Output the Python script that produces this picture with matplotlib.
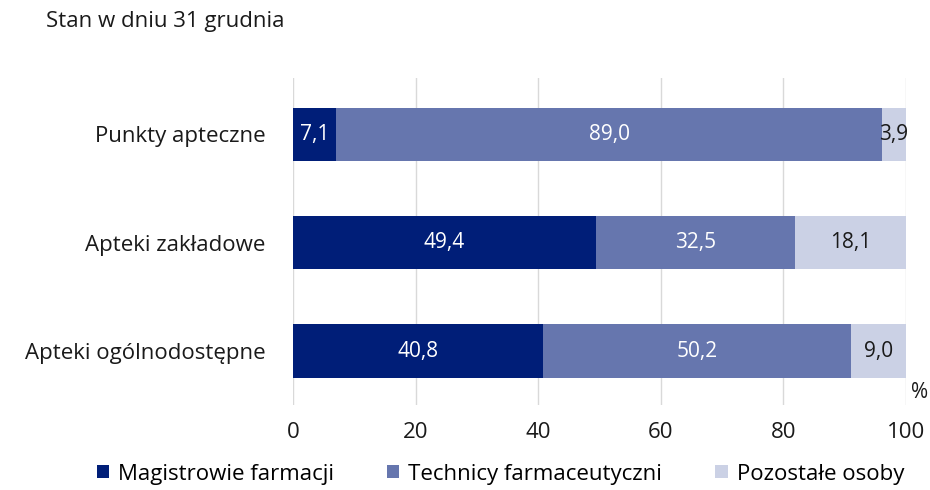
import matplotlib.pyplot as plt
from matplotlib.patches import Patch

plt.rcParams['font.family'] = ['Open Sans', 'DejaVu Sans']

categories = ['Apteki ogólnodostępne', 'Apteki zakładowe', 'Punkty apteczne']
magistrowie = [40.8, 49.4, 7.1]
technicy = [50.2, 32.5, 89.0]
pozostale = [9.0, 18.1, 3.9]
series_names = ['Magistrowie farmacji', 'Technicy farmaceutyczni', 'Pozostałe osoby']
xticks = [0, 20, 40, 60, 80, 100]

COL_DARK = '#001e78'
COL_MID = '#6676ae'
COL_LIGHT = '#cbd1e5'
colors = [COL_DARK, COL_MID, COL_LIGHT]
text_cols = ['white', 'white', '#1a1a1a']

fig = plt.figure(figsize=(9.3, 4.9), dpi=100)
ax = fig.add_axes([0.315, 0.173, 0.659, 0.668])

y = range(len(categories))
left = [0.0] * len(categories)
for vals, col, tc in zip([magistrowie, technicy, pozostale], colors, text_cols):
    bars = ax.barh(y, vals, left=left, height=0.49, color=col, zorder=3)
    for b, v in zip(bars, vals):
        ax.text(b.get_x() + b.get_width() / 2, b.get_y() + b.get_height() / 2,
                f'{v:.1f}'.replace('.', ','), ha='center', va='center',
                color=tc, fontsize=15, zorder=4)
    left = [l + v for l, v in zip(left, vals)]

ax.set_xlim(0, 100)
ax.set_ylim(-0.5, 2.52)
ax.set_xticks(xticks)
ax.set_xticklabels([str(t) for t in xticks], fontsize=16)
ax.set_yticks(list(y))
ax.set_yticklabels(categories, fontsize=16)
ax.tick_params(axis='both', length=0, colors='#1a1a1a')
ax.tick_params(axis='x', pad=12)
ax.tick_params(axis='y', pad=20)
ax.xaxis.grid(True, color='#d9d9d9', linewidth=1, zorder=0)
for s in ax.spines.values():
    s.set_visible(False)

fig.text(46 / 930, 1 - 22 / 490, 'Stan w dniu 31 grudnia', fontsize=16,
         ha='left', va='center', color='#1a1a1a')
fig.text(920 / 930, 1 - 393 / 490, '%', fontsize=15, ha='center', va='center',
         color='#1a1a1a')

handles = [Patch(facecolor=c, edgecolor='none') for c in colors]
fig.legend(handles, series_names, loc='center', bbox_to_anchor=(0.538, 1 - 474 / 490),
           ncol=3, frameon=False, fontsize=16, handlelength=0.55, handleheight=0.55,
           handletextpad=0.4, columnspacing=2.4)

fig.savefig('out.png', dpi=100)
